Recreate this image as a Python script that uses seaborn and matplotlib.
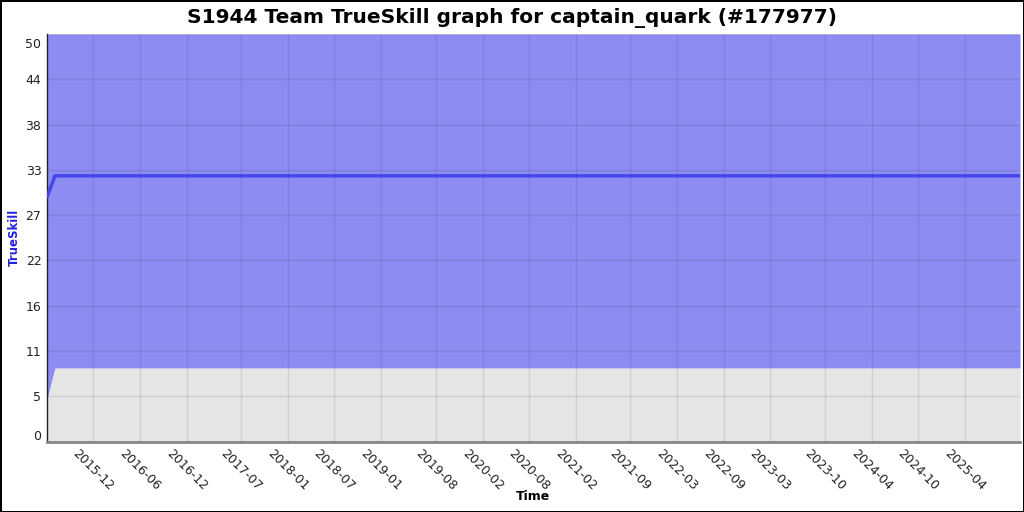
import pandas as pd
import numpy as np
import seaborn as sns
import matplotlib.pyplot as plt
import matplotlib.transforms as mtransforms

# data
dates = ['2015-06-04', '2015-07-05', '2025-11-02']
mu = [30.0, 32.6, 32.6]
lower = [5.1, 9.0, 9.0]

tick_labels = ['2015-12', '2016-06', '2016-12', '2017-07', '2018-01', '2018-07',
               '2019-01', '2019-08', '2020-02', '2020-08', '2021-02', '2021-09',
               '2022-03', '2022-09', '2023-03', '2023-10', '2024-04', '2024-10',
               '2025-04']
y_ticks = [i * 50 / 9 for i in range(10)]
y_labels = ['0', '5', '11', '16', '22', '27', '33', '38', '44', '50']

df = pd.DataFrame({'date': pd.to_datetime(dates), 'mu': mu, 'lower': lower})

sns.set_style('white')
plt.rcParams['font.family'] = ['DejaVu Sans']

fig = plt.figure(figsize=(10.24, 5.12), dpi=100)
fig.patch.set_edgecolor('black')
fig.patch.set_linewidth(2)
ax = fig.add_axes([47 / 1024, 1 - 441.5 / 512, 973 / 1024, 407.5 / 512])

ymax = 50
ax.fill_between(df['date'], df['lower'], ymax, color='#8c8cf2', zorder=1, lw=0)
ax.fill_between(df['date'], 0, df['lower'], color='#e5e5e5', zorder=1, lw=0)
sns.lineplot(data=df, x='date', y='mu', ax=ax, color='#4646ea', linewidth=2.5, zorder=3)

ax.set_xlim(df['date'].iloc[0], df['date'].iloc[-1])
ax.set_ylim(0, ymax)

ax.set_xticks(pd.to_datetime([t + '-01' for t in tick_labels]))
ax.set_xticklabels(tick_labels, rotation=-45, ha='center', va='top', fontsize=9, color='#222222')
ax.set_yticks(y_ticks)
ax.set_yticklabels(y_labels, fontsize=9, color='#222222')
ax.tick_params(axis='both', length=0, pad=4)
ax.tick_params(axis='x', pad=4)

# end labels sit inside the plot range in the reference
ylab = ax.get_yticklabels()
ylab[0].set_transform(ylab[0].get_transform() +
                      mtransforms.ScaledTranslation(0, 6 / 100, fig.dpi_scale_trans))
ylab[-1].set_transform(ylab[-1].get_transform() +
                       mtransforms.ScaledTranslation(0, -9 / 100, fig.dpi_scale_trans))

ax.grid(True, color='black', alpha=0.09, linewidth=1, zorder=2)
ax.set_axisbelow(False)

for s in ['top', 'right']:
    ax.spines[s].set_visible(False)
ax.spines['left'].set_color('#222222')
ax.spines['left'].set_linewidth(1)
ax.spines['bottom'].set_color('#888888')
ax.spines['bottom'].set_linewidth(2)

ax.set_xlabel('Time', fontsize=9, fontweight='bold', color='black', labelpad=-2)
ax.set_ylabel('TrueSkill', fontsize=8.5, fontweight='bold', color='#2222dd', labelpad=3)
fig.suptitle('S1944 Team TrueSkill graph for captain_quark (#177977)',
             fontsize=14.5, fontweight='bold', color='black', y=0.985)

fig.savefig('out.png', dpi=100)
